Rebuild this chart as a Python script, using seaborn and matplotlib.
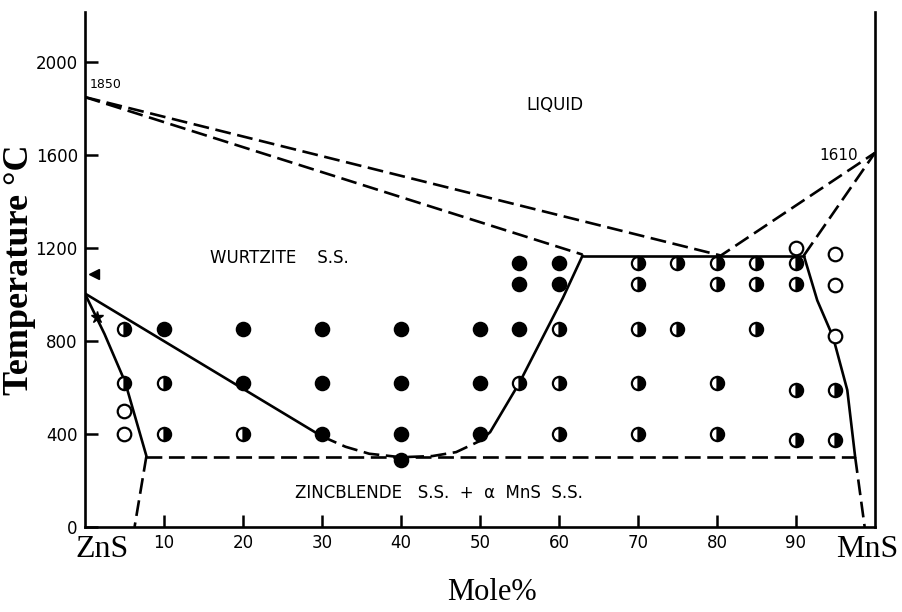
import matplotlib
matplotlib.use("Agg")
import matplotlib.pyplot as plt
import seaborn as sns
import pandas as pd

# phase boundaries: mole% MnS vs temperature (deg C)
liquidus_x = [0, 80.5, 100]
liquidus_t = [1850, 1168, 1610]
wurtz_solidus_x = [0, 63]
wurtz_solidus_t = [1850, 1172]
mns_solidus_x = [91, 100]
mns_solidus_t = [1168, 1610]
peritectic_x = [63, 91]
peritectic_t = [1168, 1168]
wurtz_left_x = [0, 30]
wurtz_left_t = [1005, 390]
wurtz_min_x = [30, 33, 36, 40, 44, 47, 50]
wurtz_min_t = [390, 345, 315, 300, 305, 322, 370]
wurtz_right_x = [50, 51.3, 55, 60.5, 63]
wurtz_right_t = [370, 408, 620, 985, 1168]
zns_solvus_x = [0, 2.5, 5.1, 7.8]
zns_solvus_t = [1005, 830, 624, 305]
zns_solvus_low_x = [7.8, 6.3]
zns_solvus_low_t = [305, 0]
eutectoid_x = [7.8, 97.5]
eutectoid_t = [300, 300]
mns_solvus_x = [91, 92.7, 94.7, 96.5, 97.2, 97.5]
mns_solvus_t = [1168, 975, 817, 589, 387, 300]
mns_solvus_low_x = [97.5, 98.7]
mns_solvus_low_t = [300, 0]

# experimental points
filled_x = [10, 20, 30, 40, 50, 55, 20, 30, 40, 50, 30, 40, 50, 40, 55, 60, 55, 60]
filled_t = [850, 850, 850, 850, 850, 850, 620, 620, 620, 620, 400, 400, 400, 290,
            1135, 1135, 1045, 1045]
open_x = [5, 5, 95, 95, 95, 90]
open_t = [400, 500, 820, 1040, 1175, 1200]
half_x = [5, 60, 70, 75, 85, 5, 10, 55, 60, 70, 80, 90, 95, 10, 20, 60, 70, 80, 90, 95,
          70, 75, 80, 85, 90, 70, 80, 85, 90]
half_t = [850, 850, 850, 850, 850, 620, 620, 620, 620, 620, 620, 590, 590,
          400, 400, 400, 400, 400, 375, 375,
          1135, 1135, 1135, 1135, 1135, 1045, 1045, 1045, 1045]

y_ticks = [0, 400, 800, 1200, 1600, 2000]
x_ticks = [10, 20, 30, 40, 50, 60, 70, 80, 90]

sns.set_style("ticks", {"xtick.direction": "in", "ytick.direction": "in"})
plt.rcParams['font.family'] = ['DejaVu Sans']
for key in ['text.color', 'axes.labelcolor', 'xtick.color', 'ytick.color']:
    plt.rcParams[key] = 'black'

fig = plt.figure(figsize=(9.02, 6.12), dpi=100)
ax = fig.add_axes([0.094, 0.139, 0.876, 0.841])

solid = dict(color='black', linewidth=1.9)
dashed = dict(color='black', linewidth=1.9, linestyle=(0, (6, 2.5)))

def boundary(xs, ts, style):
    df = pd.DataFrame({'x': xs, 't': ts})
    sns.lineplot(data=df, x='x', y='t', sort=False, estimator=None, ax=ax, **style)

boundary(liquidus_x, liquidus_t, dashed)
boundary(wurtz_solidus_x, wurtz_solidus_t, dashed)
boundary(mns_solidus_x, mns_solidus_t, dashed)
boundary(peritectic_x, peritectic_t, solid)
boundary(wurtz_left_x, wurtz_left_t, solid)
boundary(wurtz_min_x, wurtz_min_t, dashed)
boundary(wurtz_right_x, wurtz_right_t, solid)
boundary(zns_solvus_x, zns_solvus_t, solid)
boundary(zns_solvus_low_x, zns_solvus_low_t, dashed)
boundary(eutectoid_x, eutectoid_t, dashed)
boundary(mns_solvus_x, mns_solvus_t, solid)
boundary(mns_solvus_low_x, mns_solvus_low_t, dashed)

sns.scatterplot(x=filled_x, y=filled_t, s=100, color='black', edgecolor='black',
                linewidth=1.2, ax=ax, zorder=5)
sns.scatterplot(x=open_x, y=open_t, s=95, color='white', edgecolor='black',
                linewidth=1.6, ax=ax, zorder=5)
ax.plot(half_x, half_t, 'o', ms=9.5, fillstyle='right', markerfacecolor='black',
        markerfacecoloralt='white', markeredgecolor='black', markeredgewidth=1.6,
        linestyle='none', zorder=5)

# small marks near the ZnS axis
ax.plot([1.2], [1090], marker='<', ms=7, color='black')
ax.plot([1.6], [905], marker='*', ms=9, color='black')

ax.text(0.6, 1905, '1850', fontsize=9, ha='left', va='center')
ax.text(97.8, 1600, '1610', fontsize=11, ha='right', va='center')
ax.text(59.5, 1815, 'LIQUID', fontsize=12, ha='center', va='center')
ax.text(15.8, 1157, 'WURTZITE    S.S.', fontsize=12, ha='left', va='center')
ax.text(26.6, 146, 'ZINCBLENDE   S.S.  +  \u03b1  MnS  S.S.', fontsize=12,
        ha='left', va='center')

serif = ['Liberation Serif', 'DejaVu Serif']
ax.text(2.2, -95, 'ZnS', fontsize=23, family=serif, ha='center', va='center',
        clip_on=False)
ax.text(99, -95, 'MnS', fontsize=23, family=serif, ha='center', va='center',
        clip_on=False)
ax.set_xlabel('Mole%', fontsize=22, family=serif)
ax.xaxis.set_label_coords(0.515, -0.1)
ax.set_ylabel('Temperature \u00b0C', fontsize=26, family=serif, fontweight='bold')
ax.yaxis.set_label_coords(-0.062, 0.5)

ax.set_xlim(0, 100)
ax.set_ylim(0, 2215)
ax.set_xticks(x_ticks)
ax.set_yticks(y_ticks)
ax.tick_params(axis='both', length=9, width=1.8, labelsize=12, pad=5)

sns.despine(ax=ax, top=True, right=False)
for side in ['left', 'bottom', 'right']:
    ax.spines[side].set_linewidth(1.9)
    ax.spines[side].set_color('black')

fig.savefig('out.png', dpi=100)
